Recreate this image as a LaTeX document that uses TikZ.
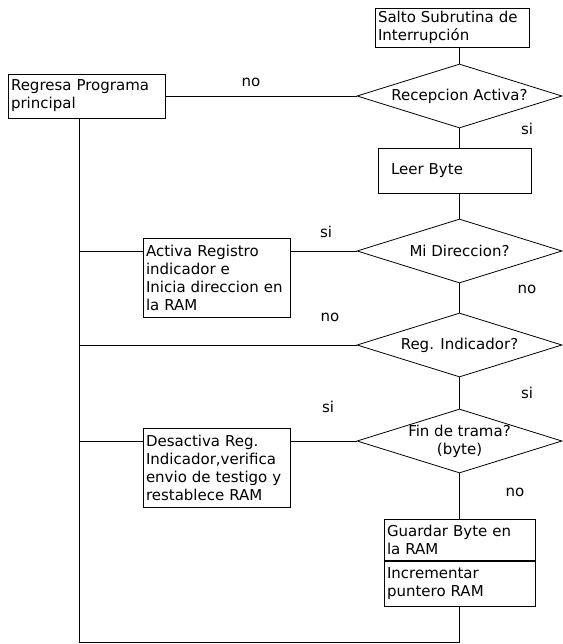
\documentclass[tikz,border=0pt]{standalone}
\usepackage{fontspec}
\setmainfont{DejaVu Sans}
\usetikzlibrary{shapes.geometric}
\begin{document}
\begin{tikzpicture}[x=1pt,y=-1pt]
\tikzset{
  caja/.style={draw,rectangle,line width=0.8pt,inner xsep=3pt,inner ysep=0pt,align=left,font=\fontsize{15}{18}\selectfont},
  decision/.style={draw,diamond,line width=0.8pt,minimum width=205pt,minimum height=64pt,shape aspect=3.2,inner sep=0pt,align=center,font=\fontsize{15}{18}\selectfont},
  etiq/.style={inner sep=0pt,font=\fontsize{15}{18}\selectfont},
  linea/.style={-,line width=0.8pt}
}
\useasboundingbox (0,0) rectangle (562,644);

% cajas de proceso
\node[caja,text width=148pt,minimum height=39pt] (salto) at (452,27.5) {Salto Subrutina de\\Interrupción};
\node[caja,text width=151pt,minimum height=44pt] (regresa) at (86.5,96) {Regresa Programa\\principal};
\node[caja,inner xsep=13pt,text width=127pt,minimum height=45pt] (leer) at (454.5,170.5) {Leer Byte};
\node[caja,text width=141pt,minimum height=79pt] (activa) at (216.5,277.5) {Activa Registro\\indicador e\\Inicia direccion en\\la RAM};
\node[caja,text width=141pt,minimum height=79pt] (desactiva) at (216.5,467.5) {Desactiva Reg.\\Indicador,verifica\\envio de testigo y\\restablece RAM};
\node[caja,text width=145pt,minimum height=41pt] (guardar) at (459.5,539.5) {Guardar Byte en\\la RAM};
\node[caja,text width=145pt,minimum height=45pt] (incrementar) at (459.5,583.5) {Incrementar\\puntero RAM};

% decisiones (columna derecha)
\node[decision] (d1) at (459.5,96)  {Recepcion Activa?};
\node[decision] (d2) at (459.5,251) {Mi Direccion?};
\node[decision] (d3) at (459.5,345) {Reg. Indicador?};
\node[decision,inner ysep=-3pt] (d4) at (459.5,441) {Fin de trama?\\(byte)};

% esquinas del retorno
\coordinate (esq) at (79,642);
\coordinate (fin) at (459.5,642);

% flujo principal
\draw[linea] (salto.south -| d1) -- (d1.north);
\draw[linea] (d1.south) -- (leer.north -| d1);
\draw[linea] (leer.south -| d2) -- (d2.north);
\draw[linea] (d2.south) -- (d3.north);
\draw[linea] (d3.south) -- (d4.north);
\draw[linea] (d4.south) -- (guardar.north);
\draw[linea] (incrementar.south) -- (fin) -- (esq) -- (regresa.south -| esq);

% ramas hacia la izquierda
\draw[linea] (d1.west) -- (regresa.east |- d1.west);
\draw[linea] (esq |- d2.west) -- (activa.west |- d2.west);
\draw[linea] (activa.east |- d2.west) -- (d2.west);
\draw[linea] (esq |- d3.west) -- (d3.west);
\draw[linea] (esq |- d4.west) -- (desactiva.west |- d4.west);
\draw[linea] (desactiva.east |- d4.west) -- (d4.west);

% etiquetas si / no
\node[etiq] (no1) at (251,82)  {no};
\node[etiq] (si1) at (527,129) {si};
\node[etiq] (si2) at (326,232) {si};
\node[etiq] (no2) at (527,289) {no};
\node[etiq] (no3) at (330,317) {no};
\node[etiq] (si3) at (527,393) {si};
\node[etiq] (si4) at (328,407) {si};
\node[etiq] (no4) at (515,492) {no};
\end{tikzpicture}
\end{document}
